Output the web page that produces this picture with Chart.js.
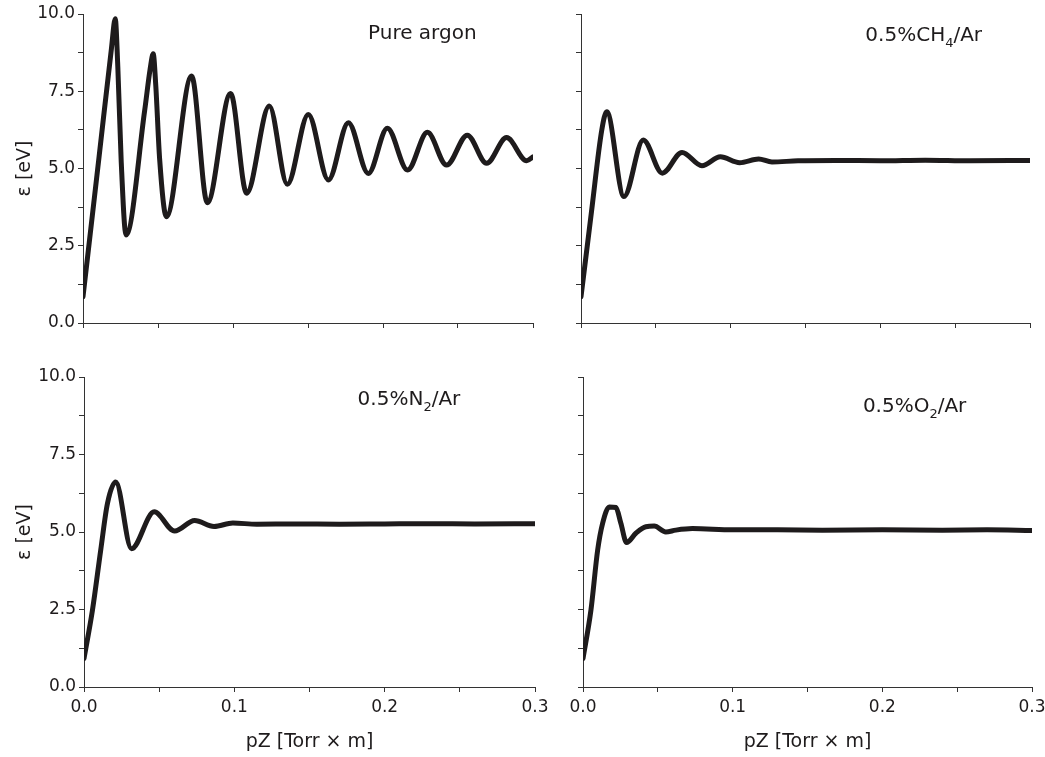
<!DOCTYPE html>
<html lang="en">
<head>
  <meta charset="UTF-8" />
  <title>Mean electron energy vs pZ</title>
  <style>
    body { margin: 0; background: #fff; }
    #wrap { position: relative; width: 1045px; height: 757px; overflow: hidden; background: #fff; }
    canvas { position: absolute; }
  </style>
</head>
<body>
  <div id="wrap">
    <canvas id="c1" width="555" height="345" style="left:0;top:0"></canvas>
    <canvas id="c2" width="505" height="345" style="left:540px;top:0"></canvas>
    <canvas id="c3" width="555" height="397" style="left:0;top:360px"></canvas>
    <canvas id="c4" width="520" height="397" style="left:540px;top:360px"></canvas>
  </div>

  <script src="https://cdn.jsdelivr.net/npm/chart.js"></script>
  <script>
    // values (pZ in Torr*m, energy in eV)
    const xAr = [0, 0.0107, 0.019, 0.0215, 0.0232, 0.0255, 0.0287, 0.0411, 0.0447, 0.0468, 0.0485, 0.0511, 0.0556,
                 0.0724, 0.0829, 0.0984, 0.1091, 0.1242, 0.1362, 0.1502, 0.1636, 0.1769, 0.1902,
                 0.2029, 0.2164, 0.2296, 0.2424, 0.2562, 0.2691, 0.2824, 0.2958, 0.3];
    const yAr = [0.85, 5.37, 8.9, 9.85, 8.3, 5.2, 2.85, 6.87, 8.2, 8.71, 7.7, 5.3, 3.44,
                 7.99, 3.89, 7.43, 4.20, 7.02, 4.49, 6.75, 4.63, 6.48, 4.84,
                 6.30, 4.95, 6.17, 5.11, 6.08, 5.17, 6.00, 5.25, 5.38];

    const xCH4 = [0, 0.007, 0.0139, 0.0172, 0.0287, 0.0416, 0.0543, 0.0675, 0.0808,
                  0.0931, 0.106, 0.1187, 0.1276, 0.145, 0.17, 0.2, 0.23, 0.26, 0.3];
    const yCH4 = [0.85, 3.6, 6.25, 6.84, 4.09, 5.92, 4.85, 5.52, 5.09,
                  5.38, 5.19, 5.31, 5.21, 5.25, 5.26, 5.25, 5.27, 5.25, 5.26];

    const xN2 = [0, 0.0056, 0.0111, 0.0156, 0.0211, 0.0316, 0.0467, 0.0603, 0.0736,
                 0.0865, 0.099, 0.115, 0.14, 0.17, 0.2, 0.23, 0.26, 0.3];
    const yN2 = [0.92, 2.47, 4.41, 5.92, 6.61, 4.46, 5.65, 5.03, 5.37,
                 5.18, 5.29, 5.25, 5.26, 5.25, 5.26, 5.27, 5.26, 5.27];

    const xO2 = [0, 0.0053, 0.0098, 0.0131, 0.0176, 0.022, 0.0253, 0.0291, 0.0353, 0.042, 0.0476, 0.0553,
                 0.062, 0.0731, 0.1, 0.13, 0.16, 0.2, 0.24, 0.27, 0.3];
    const yO2 = [0.92, 2.48, 4.42, 5.28, 5.81, 5.79, 5.28, 4.66, 4.96, 5.17, 5.19, 5.0,
                 5.06, 5.11, 5.07, 5.07, 5.06, 5.07, 5.06, 5.07, 5.05];

    const xMajor = [0, 0.1, 0.2, 0.3];
    const yMajor = [0, 2.5, 5, 7.5, 10];

    const ink = "#1e1b1c";
    const fontFam = "'DejaVu Sans', Arial, sans-serif";

    // label in the upper right of each panel, parts: [text, isSubscript]
    const panelLabel = {
      id: "panelLabel",
      afterDatasetsDraw(chart, args, opts) {
        const ctx = chart.ctx;
        let px = chart.scales.x.getPixelForValue(opts.x);
        const py = chart.scales.y.getPixelForValue(opts.y);
        ctx.save();
        ctx.fillStyle = ink;
        ctx.textBaseline = "alphabetic";
        ctx.textAlign = "left";
        opts.parts.forEach(p => {
          ctx.font = (p[1] ? "13px " : "20px ") + fontFam;
          ctx.fillText(p[0], px, p[1] ? py + 6 : py);
          px += ctx.measureText(p[0]).width;
        });
        ctx.restore();
      }
    };

    function isMajor(v, list) {
      return list.some(m => Math.abs(m - v) < 1e-6);
    }

    function makePanel(id, xs, ys, cfg) {
      const pts = xs.map((x, i) => ({ x: x, y: ys[i] }));
      return new Chart(document.getElementById(id), {
        type: "line",
        data: {
          datasets: [{
            data: pts,
            borderColor: ink,
            borderWidth: 5,
            pointRadius: 0,
            fill: false,
            cubicInterpolationMode: "monotone",
            borderJoinStyle: "round",
            borderCapStyle: "round"
          }]
        },
        options: {
          responsive: false,
          animation: false,
          events: [],
          layout: { padding: cfg.padding },
          plugins: {
            legend: { display: false },
            tooltip: { enabled: false },
            panelLabel: cfg.label
          },
          scales: {
            x: {
              type: "linear",
              min: 0,
              max: 0.3,
              afterFit: s => { s.height = cfg.xHeight; },
              border: { display: true, color: "#333", width: 1 },
              grid: { drawOnChartArea: false, drawTicks: true, tickLength: 5, color: "#333" },
              ticks: {
                display: cfg.xLabels,
                stepSize: 0.05,
                autoSkip: false,
                maxRotation: 0,
                padding: 5,
                color: ink,
                font: { family: fontFam, size: 17 },
                callback: v => isMajor(v, xMajor) ? v.toFixed(1) : ""
              },
              title: {
                display: cfg.xLabels,
                text: "pZ [Torr × m]",
                color: ink,
                font: { family: fontFam, size: 19 },
                padding: { top: 0, bottom: 4 }
              }
            },
            y: {
              type: "linear",
              min: 0,
              max: 10,
              afterFit: s => { s.width = cfg.yWidth; },
              border: { display: true, color: "#333", width: 1 },
              grid: { drawOnChartArea: false, drawTicks: true, tickLength: 5, color: "#333" },
              ticks: {
                display: cfg.yLabels,
                stepSize: 1.25,
                autoSkip: false,
                color: ink,
                font: { family: fontFam, size: 17 },
                callback: v => isMajor(v, yMajor) ? v.toFixed(1) : ""
              },
              title: {
                display: cfg.yLabels,
                text: "ε [eV]",
                color: ink,
                font: { family: fontFam, size: 19 },
                padding: { top: 14, bottom: 0 }
              }
            }
          }
        },
        plugins: [panelLabel]
      });
    }

    makePanel("c1", xAr, yAr, {
      padding: { left: 0, top: 14, right: 22, bottom: 0 },
      xHeight: 22, yWidth: 83, xLabels: false, yLabels: true,
      label: { x: 0.19, y: 9.19, parts: [["Pure argon", false]] }
    });
    makePanel("c2", xCH4, yCH4, {
      padding: { left: 0, top: 14, right: 15, bottom: 0 },
      xHeight: 22, yWidth: 41, xLabels: false, yLabels: false,
      label: { x: 0.19, y: 9.14, parts: [["0.5%CH", false], ["4", true], ["/Ar", false]] }
    });
    makePanel("c3", xN2, yN2, {
      padding: { left: 0, top: 17, right: 20, bottom: 0 },
      xHeight: 70, yWidth: 84, xLabels: true, yLabels: true,
      label: { x: 0.182, y: 9.1, parts: [["0.5%N", false], ["2", true], ["/Ar", false]] }
    });
    makePanel("c4", xO2, yO2, {
      padding: { left: 0, top: 17, right: 28, bottom: 0 },
      xHeight: 70, yWidth: 43, xLabels: true, yLabels: false,
      label: { x: 0.187, y: 8.87, parts: [["0.5%O", false], ["2", true], ["/Ar", false]] }
    });
  </script>
</body>
</html>
